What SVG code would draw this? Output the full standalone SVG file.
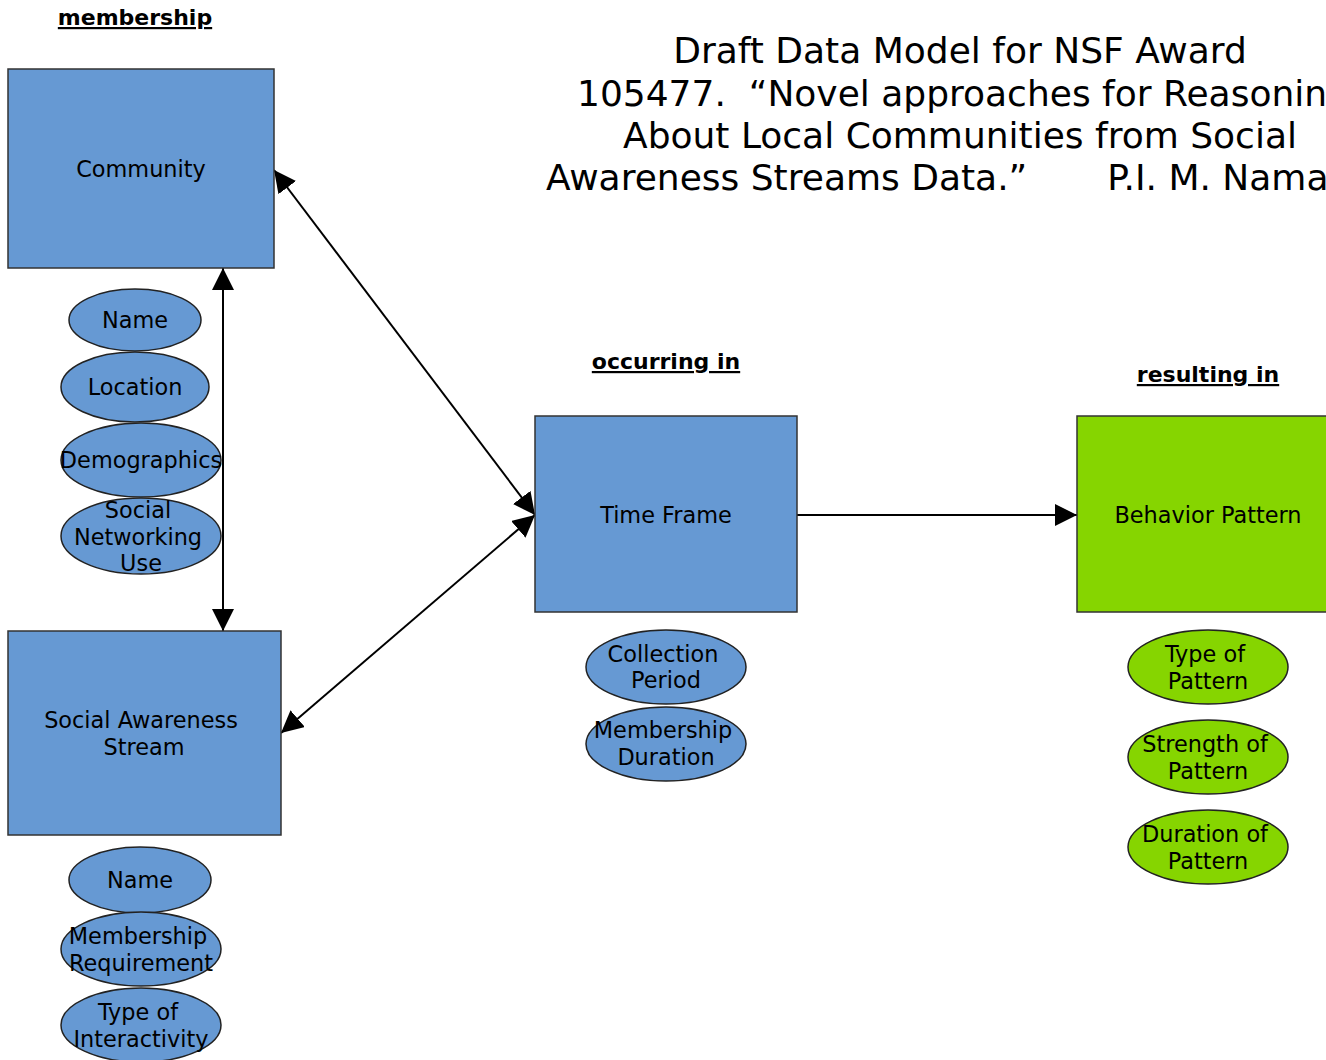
<svg xmlns="http://www.w3.org/2000/svg" width="1326" height="1060" viewBox="0 0 1326 1060">
<style>
text{font-family:"DejaVu Sans","Liberation Sans",sans-serif;fill:#000;text-anchor:middle}
.t{font-size:36px}
.lbl{font-size:22.4px}
.hd{font-size:22px;font-weight:bold;text-decoration:underline}
.box{stroke:#333;stroke-width:1.5}
.blue{fill:#6699d3}
.green{fill:#86d500}
.ell{stroke:#222;stroke-width:1.5}
.con{stroke:#000;stroke-width:2;fill:none}
</style>
<defs>
<marker id="ah" viewBox="0 0 22 22" refX="22" refY="11" markerWidth="22" markerHeight="22" markerUnits="userSpaceOnUse" orient="auto-start-reverse">
<path d="M0,0 L22,11 L0,22 Z" fill="#000"/>
</marker>
</defs>
<rect width="1326" height="1060" fill="#fff"/>
<g id="title">
<text class="t" x="960" y="63">Draft Data Model for NSF Award</text>
<text class="t" x="577" y="106" style="text-anchor:start" xml:space="preserve">105477.  “Novel approaches for Reasoning</text>
<text class="t" x="960" y="148">About Local Communities from Social</text>
<text class="t" x="546" y="190" style="text-anchor:start" xml:space="preserve">Awareness Streams Data.”       P.I. M. Nama</text>
</g>
<g id="headings">
<text class="hd" x="135" y="25">membership</text>
<text class="hd" x="666" y="369">occurring in</text>
<text class="hd" x="1208" y="382">resulting in</text>
</g>
<g id="connectors">
<line class="con" x1="223" y1="268" x2="223" y2="631" marker-start="url(#ah)" marker-end="url(#ah)"/>
<line class="con" x1="274" y1="170" x2="535" y2="515" marker-start="url(#ah)" marker-end="url(#ah)"/>
<line class="con" x1="281" y1="733" x2="535" y2="515" marker-start="url(#ah)" marker-end="url(#ah)"/>
<line class="con" x1="797" y1="515" x2="1077" y2="515" marker-end="url(#ah)"/>
</g>
<g id="community">
<rect class="box blue" x="8" y="69" width="266" height="199"/>
<text class="lbl" x="141" y="177">Community</text>
</g>
<g id="comm-name"><ellipse class="ell blue" cx="135" cy="320" rx="66" ry="31"/><text class="lbl" x="135" y="328">Name</text></g>
<g id="comm-location"><ellipse class="ell blue" cx="135" cy="387" rx="74" ry="35"/><text class="lbl" x="135" y="395">Location</text></g>
<g id="comm-demographics"><ellipse class="ell blue" cx="141" cy="460" rx="80" ry="37"/><text class="lbl" x="141" y="468">Demographics</text></g>
<g id="comm-sn"><ellipse class="ell blue" cx="141" cy="536" rx="80" ry="38"/><text class="lbl" x="138" y="518">Social</text><text class="lbl" x="138" y="545">Networking</text><text class="lbl" x="141" y="571">Use</text></g>
<g id="sas">
<rect class="box blue" x="8" y="631" width="273" height="204"/>
<text class="lbl" x="141" y="728">Social Awareness</text>
<text class="lbl" x="144" y="755">Stream</text>
</g>
<g id="sas-name"><ellipse class="ell blue" cx="140" cy="880" rx="71" ry="33"/><text class="lbl" x="140" y="888">Name</text></g>
<g id="sas-mr"><ellipse class="ell blue" cx="141" cy="949" rx="80" ry="37"/><text class="lbl" x="138" y="944">Membership</text><text class="lbl" x="141" y="971">Requirement</text></g>
<g id="sas-ti"><ellipse class="ell blue" cx="141" cy="1025" rx="80" ry="37"/><text class="lbl" x="138" y="1020">Type of</text><text class="lbl" x="141" y="1047">Interactivity</text></g>
<g id="timeframe">
<rect class="box blue" x="535" y="416" width="262" height="196"/>
<text class="lbl" x="666" y="523">Time Frame</text>
</g>
<g id="tf-cp"><ellipse class="ell blue" cx="666" cy="667" rx="80" ry="37"/><text class="lbl" x="663" y="662">Collection</text><text class="lbl" x="666" y="688">Period</text></g>
<g id="tf-md"><ellipse class="ell blue" cx="666" cy="744" rx="80" ry="37"/><text class="lbl" x="663" y="738">Membership</text><text class="lbl" x="666" y="765">Duration</text></g>
<g id="behavior">
<rect class="box green" x="1077" y="416" width="260" height="196"/>
<text class="lbl" x="1208" y="523">Behavior Pattern</text>
</g>
<g id="bp-type"><ellipse class="ell green" cx="1208" cy="667" rx="80" ry="37"/><text class="lbl" x="1205" y="662">Type of</text><text class="lbl" x="1208" y="689">Pattern</text></g>
<g id="bp-strength"><ellipse class="ell green" cx="1208" cy="757" rx="80" ry="37"/><text class="lbl" x="1205" y="752">Strength of</text><text class="lbl" x="1208" y="779">Pattern</text></g>
<g id="bp-duration"><ellipse class="ell green" cx="1208" cy="847" rx="80" ry="37"/><text class="lbl" x="1205" y="842">Duration of</text><text class="lbl" x="1208" y="869">Pattern</text></g>
</svg>
